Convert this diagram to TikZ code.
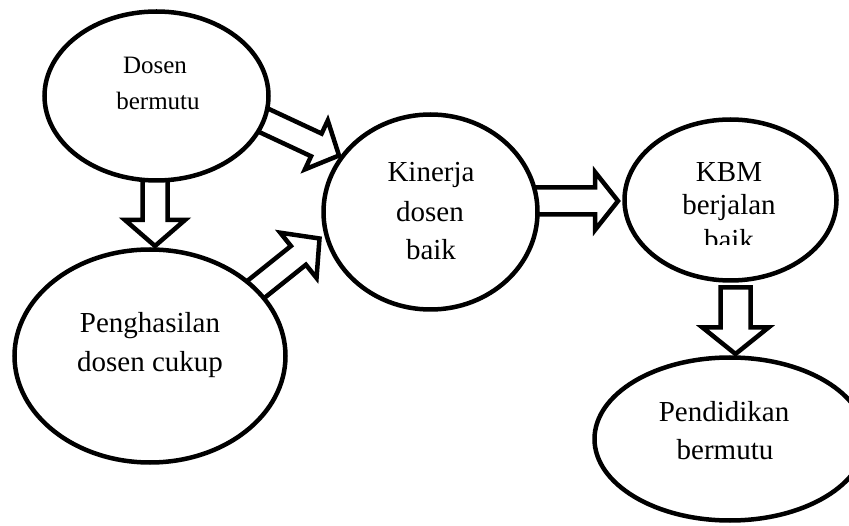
\documentclass[tikz,border=0pt]{standalone}
\usepackage{fontspec}
\setmainfont{Liberation Serif}
\usetikzlibrary{shapes.geometric,calc}
\tikzset{
  oval/.style={ellipse, draw=black, line width=4.5pt, fill=white, inner sep=0pt, outer sep=0pt},
  barrow/.style={draw=black, fill=white, line width=4.5pt, line join=miter},
  lbl/.style={inner sep=0pt, anchor=base, font=\fontsize{29}{39}\selectfont},
  slbl/.style={inner sep=0pt, anchor=base, font=\fontsize{25}{36}\selectfont},
}
\newcommand{\blockarr}[5]{%
  \coordinate (#2hb) at ($(#2)!#5!(#1)$);
  \draw[barrow] ($(#1)!#3!90:(#2)$) -- ($(#2hb)!#3!90:(#2)$) -- ($(#2hb)!#4!90:(#2)$) -- (#2)
    -- ($(#2hb)!#4!-90:(#2)$) -- ($(#2hb)!#3!-90:(#2)$) -- ($(#1)!#3!-90:(#2)$) -- cycle;
}
\begin{document}
\begin{tikzpicture}[x=1pt,y=-1pt]
\useasboundingbox (0,0) rectangle (849,526);
\clip (0,0) rectangle (849,526);
\fill[white] (0,0) rectangle (849,526);
% arrow end points
\coordinate (a1s) at (155,172);   \coordinate (a1t) at (155,246);
\coordinate (a2s) at (257.6,117.5); \coordinate (a2t) at (339,155.5);
\coordinate (a3s) at (246.4,297); \coordinate (a3t) at (319.5,238.5);
\coordinate (a4s) at (528,201);   \coordinate (a4t) at (618,201);
\coordinate (a5s) at (735.5,287.5); \coordinate (a5t) at (735.5,354);
% block arrows
\blockarr{a1s}{a1t}{12.5pt}{30pt}{26pt}
\blockarr{a2s}{a2t}{12.5pt}{27pt}{25pt}
\blockarr{a3s}{a3t}{12pt}{29pt}{27pt}
\blockarr{a4s}{a4t}{13.5pt}{29pt}{23pt}
\blockarr{a5s}{a5t}{15pt}{33pt}{26.5pt}
% ellipses
\node[oval, minimum width=224pt, minimum height=169pt] (e1) at (156.5,96) {};
\node[oval, minimum width=271pt, minimum height=213pt] (e2) at (150,356) {};
\node[oval, minimum width=214pt, minimum height=195pt] (e3) at (430.5,212) {};
\node[oval, minimum width=212pt, minimum height=161pt] (e4) at (730.5,200) {};
\node[oval, minimum width=271pt, minimum height=163pt] (e5) at (730,439) {};
% texts
\node[slbl] (t1a) at (155,74) {Dosen};
\node[slbl] (t1b) at (158,110) {bermutu};
\node[lbl] (t2a) at (150,333) {Penghasilan};
\node[lbl] (t2b) at (150,372) {dosen cukup};
\node[lbl] (t3a) at (431,182) {Kinerja};
\node[lbl] (t3b) at (430,222) {dosen};
\node[lbl] (t3c) at (431,260) {baik};
\node[lbl] (t4a) at (729,182) {KBM};
\node[lbl] (t4b) at (729,215) {berjalan};
\begin{scope}
  \clip (600,0) rectangle (849,245);
  \node[lbl] (t4c) at (729,250) {baik};
\end{scope}
\node[lbl] (t5a) at (724,422) {Pendidikan};
\node[lbl] (t5b) at (725,460) {bermutu};
\end{tikzpicture}
\end{document}
